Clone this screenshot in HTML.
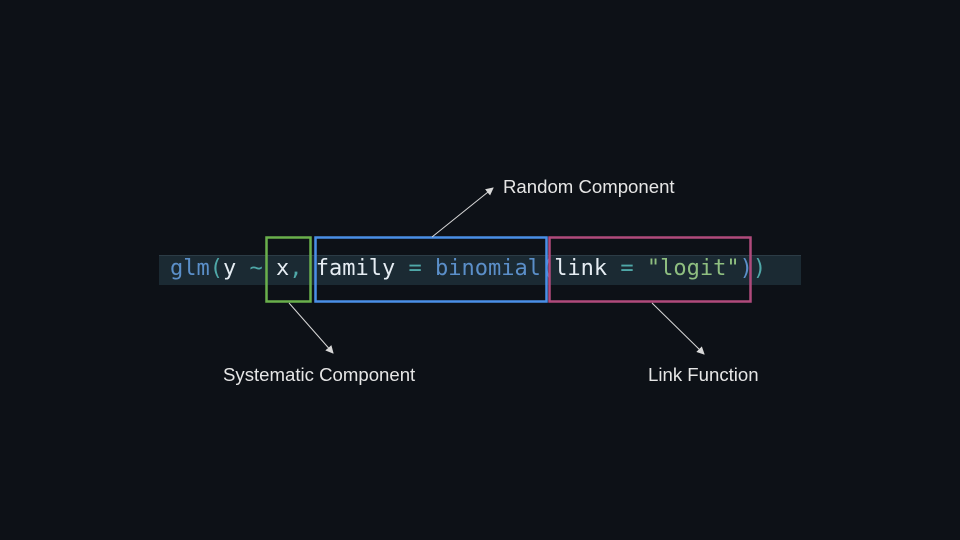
<!DOCTYPE html>
<html><head><style>
html,body{margin:0;padding:0;background:#0d1117;}
body{width:960px;height:540px;position:relative;overflow:hidden;}
.band{position:absolute;left:159px;top:255px;width:642px;height:30px;background:#1b2a33;border-top:1px solid #2c3c46;box-sizing:border-box;}
.code{position:absolute;left:170px;top:254px;font-family:"DejaVu Sans Mono","Liberation Mono",monospace;font-size:22px;line-height:30px;white-space:pre;color:#e6edf3;}
.b{color:#5b8fc9}.t{color:#4fa8a8}.g{color:#8fbf80}.w{color:#e6edf3}
.lbl{position:absolute;font-family:"Liberation Sans",sans-serif;font-size:18.6px;color:#e6e6e6;white-space:nowrap;}
</style></head><body>
<div class="band"></div>
<div class="code"><span class="b">glm</span><span class="t">(</span>y <span class="t">~</span> x<span class="t">,</span> family <span class="t">=</span> <span class="b">binomial(</span>link <span class="t">=</span> <span class="g">"logit"</span><span class="b">)</span><span class="t">)</span></div>
<svg width="960" height="540" style="position:absolute;left:0;top:0">
<defs><marker id="a" markerWidth="8" markerHeight="8" refX="7" refY="4" orient="auto" markerUnits="userSpaceOnUse"><path d="M0,0 L8,4 L0,8 z" fill="#d8d8d8"/></marker></defs>
<rect x="266.5" y="237.5" width="44" height="64" fill="none" stroke="#6ab04c" stroke-width="2.5"/>
<rect x="315.5" y="237.5" width="231" height="64" fill="none" stroke="#4a8fe7" stroke-width="2.5"/>
<rect x="549.5" y="237.5" width="201" height="64" fill="none" stroke="#b04a7c" stroke-width="2.5"/>
<line x1="432" y1="237" x2="493" y2="188" stroke="#d8d8d8" stroke-width="1" marker-end="url(#a)"/>
<line x1="289" y1="303" x2="333" y2="353" stroke="#d8d8d8" stroke-width="1" marker-end="url(#a)"/>
<line x1="652" y1="303" x2="704" y2="354" stroke="#d8d8d8" stroke-width="1" marker-end="url(#a)"/>
</svg>
<div class="lbl" style="left:503px;top:176px">Random Component</div>
<div class="lbl" style="left:223px;top:364px">Systematic Component</div>
<div class="lbl" style="left:648px;top:364px">Link Function</div>
</body></html>
